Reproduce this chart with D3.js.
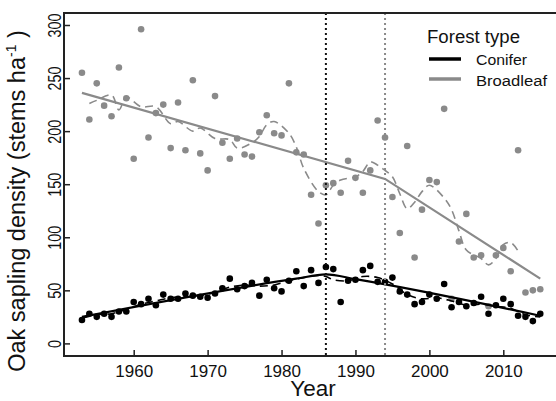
<!DOCTYPE html>
<html><head><meta charset="utf-8">
<script src="https://cdn.jsdelivr.net/npm/d3@7"></script>
<style>body{margin:0;background:#fff}text{font-family:"Liberation Sans",Arial,sans-serif;fill:#111}</style>
</head><body><svg id="c" width="556" height="401"></svg>
<script>
const years = [1953,1954,1955,1956,1957,1958,1959,1960,1961,1962,1963,1964,1965,1966,1967,1968,1969,1970,1971,1972,1973,1974,1975,1976,1977,1978,1979,1980,1981,1982,1983,1984,1985,1986,1987,1988,1989,1990,1991,1992,1993,1994,1995,1996,1997,1998,1999,2000,2001,2002,2003,2004,2005,2006,2007,2008,2009,2010,2011,2012,2013,2014,2015];
const broadleaf = [255,211,245,224,214,260,231,174,296,194,217,225,184,227,182,248,179,163,233,189,174,193,178,176,199,215,198,196,245,180,178,140,113,149,151,142,172,156,142,163,210,194,138,104,186,81,126,154,152,221,42,96,122,81,83,35,83,90,68,182,48,50,51];
const conifer = [22,28,25,28,25,30,30,39,37,42,36,46,42,42,47,45,44,43,47,52,61,51,54,57,45,60,52,49,59,68,54,69,57,72,70,39,59,60,69,73,58,58,62,49,46,37,39,46,42,56,34,39,35,38,44,28,36,42,37,26,25,21,28];
// fitted trend (solid) and smoother (dashed)
const broadTrendYears = [1953,1994,2015];
const broadTrend = [236,155,61];
const conTrendYears = [1953,1982,1986,1990,2015];
const conTrend = [25,61,65,60.5,26];
const broadSmoothYears = [1954,1955,1957,1958,1959,1961,1963,1965,1966,1968,1969,1971,1973,1974,1976,1977,1978,1979,1981,1982,1983,1985,1986,1987,1988,1990,1991,1992,1993,1994,1995,1996,1997,1998,1999,2000,2002,2003,2004,2005,2007,2008,2009,2010,2011,2012];
const broadSmooth = [226,229,234,220,232,223,223,207,209,200,203,193,192,184,189,195,206,209,198,185,165,143,140,149,154,157,162,171,168,163,157,141,127,133,143,149,137,126,106,88,80,74,80,93,95,87];
const conSmoothYears = [1953,1955,1957,1959,1961,1963,1965,1967,1969,1971,1973,1975,1977,1979,1981,1983,1985,1986,1987,1989,1991,1993,1995,1997,1999,2001,2003,2005,2007,2009,2011,2013,2015];
const conSmooth = [24,27,28,32,37,40,43,44,45,48,53,55,54,55,59,62,64,63,60,59,63,62,56,46,42,43,40,36,37,35,33,27,25];
const breakYears = [1986,1994];
const xTicks = [1960,1970,1980,1990,2000,2010];
const yTicks = [0,50,100,150,200,250,300];

const svg = d3.select("#c");
const L=64, T=13, B=356, R=560;
const x = d3.scaleLinear().domain([1960,2010]).range([133.7,503.3]);
const y = d3.scaleLinear().domain([0,300]).range([343.4,25]);
const GRAY="#8a8a8a";

// points
svg.append("g").selectAll("circle").data(years).join("circle")
  .attr("cx",(d)=>x(d)).attr("cy",(d,i)=>y(broadleaf[i])).attr("r",3.3).attr("fill",GRAY);
svg.append("g").selectAll("circle").data(years).join("circle")
  .attr("cx",(d)=>x(d)).attr("cy",(d,i)=>y(conifer[i])).attr("r",3.3).attr("fill","#000");

const line = (xs,ys,curve)=>d3.line().x((d,i)=>x(xs[i])).y((d,i)=>y(ys[i])).curve(curve||d3.curveLinear)(ys);
svg.append("path").attr("d",line(broadSmoothYears,broadSmooth,d3.curveCatmullRom)).attr("fill","none")
  .attr("stroke",GRAY).attr("stroke-width",1.6).attr("stroke-dasharray","8,5");
svg.append("path").attr("d",line(conSmoothYears,conSmooth,d3.curveCatmullRom)).attr("fill","none")
  .attr("stroke","#000").attr("stroke-width",1.6).attr("stroke-dasharray","8,5");
svg.append("path").attr("d",line(broadTrendYears,broadTrend)).attr("fill","none")
  .attr("stroke",GRAY).attr("stroke-width",2.2);
svg.append("path").attr("d",line(conTrendYears,conTrend,d3.curveMonotoneX)).attr("fill","none")
  .attr("stroke","#000").attr("stroke-width",2.2);

// break lines
svg.selectAll("line.brk").data(breakYears).join("line").attr("class","brk")
  .attr("x1",d=>x(d)).attr("x2",d=>x(d)).attr("y1",T).attr("y2",B)
  .attr("stroke",(d,i)=>i===0?"#111":GRAY).attr("stroke-width",2).attr("stroke-dasharray","2,3");

// frame
svg.append("rect").attr("x",L).attr("y",T).attr("width",R-L).attr("height",B-T)
  .attr("fill","none").attr("stroke","#222").attr("stroke-width",2);

// axes (inward ticks)
const xa = svg.append("g").attr("transform",`translate(0,${B})`)
  .call(d3.axisTop(x).tickValues(xTicks).tickSize(6).tickFormat(d3.format("d")));
xa.select(".domain").remove();
xa.selectAll("line").attr("stroke","#222").attr("stroke-width",1.5);
xa.selectAll("text").attr("y",21).attr("dy",0).style("font-size","17px")
  .attr("transform",null).attr("dominant-baseline","auto");
const ya = svg.append("g").attr("transform",`translate(${L},0)`)
  .call(d3.axisRight(y).tickValues(yTicks).tickSize(6));
ya.select(".domain").remove();
ya.selectAll("line").attr("stroke","#222").attr("stroke-width",1.5);
ya.selectAll("text").attr("x",0).attr("dy",0).attr("y",0)
  .attr("transform","translate(-3,0) rotate(-90)").attr("text-anchor","middle")
  .style("font-size","18px").attr("textLength",function(){return this.textContent.length*8;})
  .attr("lengthAdjust","spacingAndGlyphs");

// titles
svg.append("text").attr("x",313).attr("y",396).attr("text-anchor","middle")
  .style("font-size","22.5px").text("Year");
const yt = svg.append("text").attr("transform","translate(25,201) rotate(-90)")
  .attr("text-anchor","middle").style("font-size","23.5px");
yt.append("tspan").text("Oak sapling density (stems ha");
yt.append("tspan").attr("dy",-9).style("font-size","14px").text("-1");
yt.append("tspan").attr("dy",9).text(" )");

// legend
svg.append("text").attr("x",427).attr("y",42.7).style("font-size","17.5px")
  .attr("textLength",93).attr("lengthAdjust","spacingAndGlyphs").text("Forest type");
const leg = [["Conifer","#000",59,65,51],["Broadleaf",GRAY,79,85.5,71]];
leg.forEach(([t,c,ly,ty,tl])=>{
  svg.append("line").attr("x1",429).attr("x2",461).attr("y1",ly).attr("y2",ly)
    .attr("stroke",c).attr("stroke-width",3.5);
  svg.append("text").attr("x",476).attr("y",ty).style("font-size","15.5px")
    .attr("textLength",tl).attr("lengthAdjust","spacingAndGlyphs").text(t);
});
</script></body></html>
